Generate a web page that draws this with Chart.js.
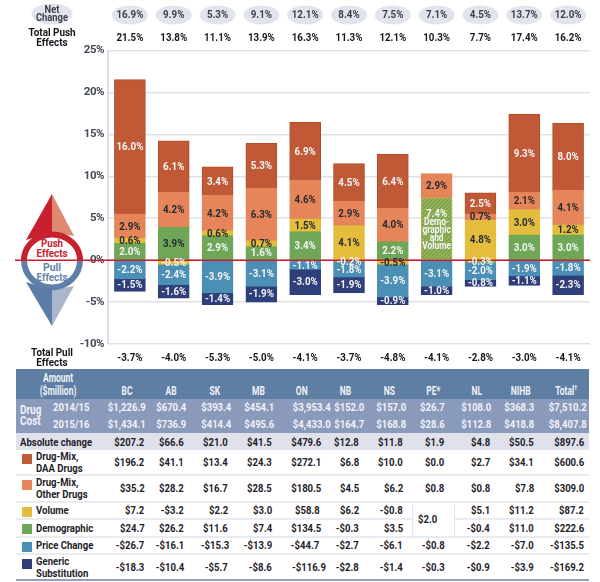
<!DOCTYPE html>
<html>
<head>
<meta charset="utf-8">
<title>Drug cost push and pull effects</title>
<script src="https://cdn.jsdelivr.net/npm/chart.js@4"></script>
<style>
    html, body { margin: 0; padding: 0; background: #fff; }
    #wrap { position: relative; width: 600px; height: 582px; overflow: hidden; font-family: Roboto, sans-serif; }
    #compass { position: absolute; left: 0; top: 0; }
    #myChart { position: absolute; left: 0; top: 0; }
    #costTable { position: absolute; left: 16px; top: 369px; width: 573px; table-layout: fixed; border-collapse: separate; border-spacing: 0; font-size: 11.5px; font-weight: bold; line-height: 12px; color: #1f2229; }
    #costTable td, #costTable th { padding: 0; text-align: right; overflow: visible; white-space: nowrap; font-weight: bold; }
    .cn { display: inline-block; transform: scaleX(0.83); transform-origin: right center; }
    .cl { display: inline-block; transform: scaleX(0.83); transform-origin: left center; }
    .cc { display: inline-block; transform: scaleX(0.68); transform-origin: center center; }
    #costTable tr.head th { background: #5f7ea4; color: #eef1f6; font-size: 12.5px; vertical-align: bottom; padding-bottom: 2px; }
    #costTable tr.head th.amount { text-align: center; line-height: 13.5px; padding-bottom: 1px; }
    #costTable sup { font-size: 8px; line-height: 0; }
    #costTable tr.cost td { background: #8a9aba; color: #f0f2f7; }
    #costTable td.drug { text-align: left; padding-left: 4px; line-height: 11px; font-size: 12px; }
    #costTable td.year { text-align: left; padding-left: 3px; }
    #costTable tr.abs td { background: #dfe2ea; }
    #costTable td.lab { text-align: left; padding-left: 4px; }
    #costTable td.effect { text-align: left; padding-left: 20px; position: relative; }
    #costTable tr.line td { border-bottom: 2px solid #e9ebf0; }
    #costTable tr.last td { border-bottom: 2px solid #8fa4c0; }
    #costTable td.merged { border-left: 1px solid #e4e6ec; border-right: 1px solid #e4e6ec; }
    .swatch { position: absolute; left: 6px; top: 4px; width: 10px; height: 10px; }
</style>
</head>
<body>
<div id="wrap">
    <svg id="compass" width="600" height="368" font-family="Roboto, sans-serif" font-weight="bold" font-size="11.5" text-anchor="middle">
        <polygon points="52,194 26,240 52,232" fill="#c8202f"/>
        <polygon points="52,194 74,236 52,232" fill="#dd8a70"/>
        <polygon points="52,326 26,282 52,290" fill="#5a7ca5"/>
        <polygon points="52,326 74,286 52,290" fill="#a9b6cc"/>
        <ellipse cx="52" cy="262" rx="27" ry="26" fill="#fff"/>
        <path d="M24,260 A28,25.5 0 0 1 80,260" fill="none" stroke="#c8202f" stroke-width="6"/>
        <path d="M24,260 A28,27.5 0 0 0 80,260" fill="none" stroke="#5f7fa8" stroke-width="6"/>
        <text x="52" y="246.7" fill="#c8202f" textLength="22" lengthAdjust="spacingAndGlyphs">Push</text>
        <text x="52" y="256.7" fill="#c8202f" textLength="31" lengthAdjust="spacingAndGlyphs">Effects</text>
        <text x="52" y="270.7" fill="#5f7fa8" textLength="18" lengthAdjust="spacingAndGlyphs">Pull</text>
        <text x="52" y="280.7" fill="#5f7fa8" textLength="31" lengthAdjust="spacingAndGlyphs">Effects</text>
    </svg>
    <canvas id="myChart" width="600" height="368"></canvas>
    <table id="costTable"></table>
</div>

<script>
// values
const provinces = ['BC', 'AB', 'SK', 'MB', 'ON', 'NB', 'NS', 'PE*', 'NL', 'NIHB', 'Total']
const netChange = [16.9, 9.9, 5.3, 9.1, 12.1, 8.4, 7.5, 7.1, 4.5, 13.7, 12.0]
const totalPush = [21.5, 13.8, 11.1, 13.9, 16.3, 11.3, 12.1, 10.3, 7.7, 17.4, 16.2]
const totalPull = [-3.7, -4.0, -5.3, -5.0, -4.1, -3.7, -4.8, -4.1, -2.8, -3.0, -4.1]

const demographic = [2.0, 3.9, 2.9, 1.6, 3.4, -0.2, 2.2, null, -0.3, 3.0, 3.0]
const volume = [0.6, -0.5, 0.6, 0.7, 1.5, 4.1, -0.5, null, 4.8, 3.0, 1.2]
const demoAndVolume = [null, null, null, null, null, null, null, 7.4, null, null, null]
const drugMixOther = [2.9, 4.2, 4.2, 6.3, 4.6, 2.9, 4.0, 2.9, 0.7, 2.1, 4.1]
const drugMixDaa = [16.0, 6.1, 3.4, 5.3, 6.9, 4.5, 6.4, null, 2.5, 9.3, 8.0]
const priceChange = [-2.2, -2.4, -3.9, -3.1, -1.1, -1.8, -3.9, -3.1, -2.0, -1.9, -1.8]
const genericSub = [-1.5, -1.6, -1.4, -1.9, -3.0, -1.9, -0.9, -1.0, -0.8, -1.1, -2.3]

const cost1415 = [1226.9, 670.4, 393.4, 454.1, 3953.4, 152.0, 157.0, 26.7, 108.0, 368.3, 7510.2]
const cost1516 = [1434.1, 736.9, 414.4, 495.6, 4433.0, 164.7, 168.8, 28.6, 112.8, 418.8, 8407.8]
const absChange = [207.2, 66.6, 21.0, 41.5, 479.6, 12.8, 11.8, 1.9, 4.8, 50.5, 897.6]
const amtDaa = [196.2, 41.1, 13.4, 24.3, 272.1, 6.8, 10.0, 0.0, 2.7, 34.1, 600.6]
const amtOther = [35.2, 28.2, 16.7, 28.5, 180.5, 4.5, 6.2, 0.8, 0.8, 7.8, 309.0]
const amtVolume = [7.2, -3.2, 2.2, 3.0, 58.8, 6.2, -0.8, 2.0, 5.1, 11.2, 87.2]
const amtDemographic = [24.7, 26.2, 11.6, 7.4, 134.5, -0.3, 3.5, null, -0.4, 11.0, 222.6]
const amtPrice = [-26.7, -16.1, -15.3, -13.9, -44.7, -2.7, -6.1, -0.8, -2.2, -7.0, -135.5]
const amtGeneric = [-18.3, -10.4, -5.7, -8.6, -116.9, -2.8, -1.4, -0.3, -0.9, -3.9, -169.2]

const yTicks = [25, 20, 15, 10, 5, 0, -5, -10]

const c_daa = '#c05a36'
const c_other = '#e58559'
const c_volume = '#e4bd3c'
const c_demo = '#6fa658'
const c_price = '#4b8fb5'
const c_generic = '#2e3f7a'

const FONT = 'Roboto, sans-serif'
const DARK = '#262a33'
const LIGHT = '#f4f5f7'

function pct(v) { return v.toFixed(1) + '%' }

function money(v) {
    const s = Math.abs(v).toLocaleString('en-US', { minimumFractionDigits: 1, maximumFractionDigits: 1 })
    return (v < 0 ? '-$' : '$') + s
}

// green on yellow stripes for the PE bar
function stripes() {
    const tile = document.createElement('canvas')
    tile.width = 4
    tile.height = 4
    const t = tile.getContext('2d')
    t.fillStyle = '#d2b84a'
    t.fillRect(0, 0, 4, 4)
    t.strokeStyle = c_demo
    t.lineWidth = 2
    t.beginPath()
    t.moveTo(-1, 5); t.lineTo(5, -1)
    t.moveTo(-1, 1); t.lineTo(1, -1)
    t.moveTo(3, 5); t.lineTo(5, 3)
    t.stroke()
    return document.getElementById('myChart').getContext('2d').createPattern(tile, 'repeat')
}

function barSet(label, data, fill, edge, labelColor) {
    return {
        label: label, data: data, backgroundColor: fill, borderColor: edge, borderWidth: 1,
        borderSkipped: false, inflateAmount: 0.5, stack: 'a', labelColor: labelColor
    }
}

const datasets = [
    barSet('Demographic', demographic, c_demo, c_demo, function (i) { return i == 1 ? DARK : LIGHT }),
    barSet('Volume', volume, c_volume, c_volume, function (i) { return (i == 1 || i == 5 || i == 8) && volume[i] < 0 ? LIGHT : DARK }),
    barSet('Demographic and Volume', demoAndVolume, stripes(), '#b8bb55', function () { return LIGHT }),
    barSet('Drug-Mix, Other Drugs', drugMixOther, c_other, c_other, function () { return DARK }),
    barSet('Drug-Mix, DAA Drugs', drugMixDaa, c_daa, '#b44a28', function () { return LIGHT }),
    barSet('Price Change', priceChange, c_price, c_price, function () { return LIGHT }),
    barSet('Generic Substitution', genericSub, c_generic, c_generic, function () { return LIGHT })
]

// the reference uses a narrow face, so squeeze Roboto a little
function narrowText(ctx, text, x, y, squeeze) {
    ctx.save()
    ctx.translate(x, y)
    ctx.scale(squeeze || 0.85, 1)
    ctx.fillText(text, 0, 0)
    ctx.restore()
}

// in-bar labels, the red zero line and the rows above and below the plot
const barText = {
    id: 'barText',
    beforeDraw(chart) {
        chart.ctx.letterSpacing = '-0.5px'
    },
    afterDatasetsDraw(chart) {
        const ctx = chart.ctx
        const xs = chart.scales.x
        const zero = chart.scales.y.getPixelForValue(0)

        ctx.save()
        ctx.letterSpacing = '0px'
        ctx.strokeStyle = '#d0182f'
        ctx.lineWidth = 1.5
        ctx.beginPath()
        ctx.moveTo(15, zero)
        ctx.lineTo(chart.chartArea.right, zero)
        ctx.stroke()

        ctx.textAlign = 'center'
        ctx.textBaseline = 'middle'
        const labelFont = 'bold 11.5px ' + FONT
        ctx.font = labelFont
        datasets.forEach(function (ds, d) {
            chart.getDatasetMeta(d).data.forEach(function (bar, i) {
                const v = ds.data[i]
                if (v === null) return
                ctx.fillStyle = ds.labelColor(i)
                if (ds.label == 'Demographic and Volume') {
                    const y = bar.y + 16
                    narrowText(ctx, pct(v), bar.x, y)
                    ctx.font = 'bold 10.5px ' + FONT
                    const words = ['Demo-', 'graphic', 'and', 'Volume']
                    words.forEach(function (w, k) { narrowText(ctx, w, bar.x, y + 8.5 + k * 8, 0.8) })
                    ctx.font = labelFont
                } else {
                    narrowText(ctx, pct(v), bar.x, (bar.y + bar.base) / 2 + 0.5)
                }
            })
        })

        // net change ovals and push / pull totals
        provinces.forEach(function (p, i) {
            const x = xs.getPixelForValue(i)
            ctx.fillStyle = '#e1e4ec'
            ctx.beginPath()
            ctx.ellipse(x, 15, 18, 9.5, 0, 0, Math.PI * 2)
            ctx.fill()
            ctx.fillStyle = '#3a3f4a'
            narrowText(ctx, pct(netChange[i]), x, 15.5)
            ctx.fillStyle = '#14161c'
            narrowText(ctx, pct(totalPush[i]), x, 38.5)
            narrowText(ctx, pct(totalPull[i]), x, 358.5)
        })

        ctx.fillStyle = '#e1e4ec'
        ctx.beginPath()
        ctx.ellipse(52, 14, 20.5, 10.5, 0, 0, Math.PI * 2)
        ctx.fill()
        ctx.font = 'bold 11px ' + FONT
        ctx.fillStyle = '#3a3f4a'
        narrowText(ctx, 'Net', 52, 10)
        narrowText(ctx, 'Change', 52, 18.5)
        ctx.fillStyle = '#14161c'
        narrowText(ctx, 'Total Push', 52, 33.5, 0.9)
        narrowText(ctx, 'Effects', 52, 43.5, 0.9)
        narrowText(ctx, 'Total Pull', 52, 353.5, 0.9)
        narrowText(ctx, 'Effects', 52, 363.5, 0.9)
        ctx.restore()
    }
}

const ctx = document.getElementById('myChart')
const myChart = new Chart(ctx, {
    type: 'bar',
    data: { labels: provinces, datasets: datasets },
    options: {
        responsive: false,
        animation: false,
        layout: { padding: { top: 50.5, right: 10, bottom: 24, left: 0 } },
        datasets: { bar: { barPercentage: 0.7, categoryPercentage: 1 } },
        plugins: { legend: { display: false }, tooltip: { enabled: false } },
        scales: {
            x: { stacked: true, display: false },
            y: {
                stacked: true,
                min: -10,
                max: 25,
                afterFit: function (s) { s.width = 108 },
                afterBuildTicks: function (s) { s.ticks = yTicks.map(function (v) { return { value: v } }) },
                border: { color: '#dcdee3', width: 2 },
                grid: { color: '#dfe1e6', lineWidth: 1.5, drawTicks: false },
                ticks: {
                    padding: 4,
                    color: '#444a55',
                    font: { family: FONT, size: 11.5, weight: 'bold' },
                    callback: function (v) { return v + '%' }
                }
            }
        }
    },
    plugins: [barText]
})

// table under the chart
const colEdges = [150, 195, 238, 285, 328, 370, 412, 455, 498, 541, 589]
const colRight = [144.3, 183.3, 227.7, 271.7, 319.3, 359, 402.7, 444.3, 490, 534, 584]
const headCenter = [126.7, 170.7, 215, 258, 302, 345.7, 389, 433, 477, 521, 565.7]
const rowHeights = [29.5, 17.25, 17.25, 17, 25, 26.5, 17.5, 17.5, 17, 25.5]

function cn(s) { return '<span class="cn">' + s + '</span>' }
function cl(s) { return '<span class="cl">' + s + '</span>' }
function cc(s) { return '<span class="cc">' + s + '</span>' }

function buildTable() {
    const pad = colEdges.map(function (e, i) { return e - colRight[i] })
    let html = '<colgroup><col style="width:34px"><col style="width:50px">'
    colEdges.forEach(function (e, i) {
        html += '<col style="width:' + (e - (i ? colEdges[i - 1] : 100)) + 'px">'
    })
    html += '</colgroup>'

    const cells = function (vals) {
        return vals.map(function (v, i) {
            return '<td style="padding-right:' + pad[i].toFixed(1) + 'px">' + cn(money(v)) + '</td>'
        }).join('')
    }

    html += '<tr class="head" style="height:' + rowHeights[0] + 'px"><th colspan="2" class="amount">' + cc('Amount') + '<br>' + cc('($million)') + '</th>'
    provinces.forEach(function (p, i) {
        const left = i ? colEdges[i - 1] : 100
        const shift = 2 * headCenter[i] - left - colEdges[i]
        const name = p == 'Total' ? 'Total<sup>†</sup>' : p
        html += '<th style="text-align:center;padding-left:' + Math.max(shift, 0).toFixed(1) + 'px;padding-right:' + Math.max(-shift, 0).toFixed(1) + 'px">' + cc(name) + '</th>'
    })
    html += '</tr>'

    html += '<tr class="cost" style="height:' + rowHeights[1] + 'px"><td class="drug" rowspan="2">' + cl('Drug<br>Cost') + '</td><td class="year">' + cl('2014/15') + '</td>' + cells(cost1415) + '</tr>'
    html += '<tr class="cost" style="height:' + rowHeights[2] + 'px"><td class="year">' + cl('2015/16') + '</td>' + cells(cost1516) + '</tr>'
    html += '<tr class="abs" style="height:' + rowHeights[3] + 'px"><td class="lab" colspan="2">' + cl('Absolute change') + '</td>' + cells(absChange) + '</tr>'

    const effectRow = function (name, color, h, cls) {
        return '<tr class="' + cls + '" style="height:' + h + 'px"><td class="effect" colspan="2"><span class="swatch" style="background:' + color + '"></span>' + cl(name) + '</td>'
    }

    html += effectRow('Drug-Mix,<br>DAA Drugs', c_daa, rowHeights[4], 'line') + cells(amtDaa) + '</tr>'
    html += effectRow('Drug-Mix,<br>Other Drugs', c_other, rowHeights[5], 'line') + cells(amtOther) + '</tr>'

    // PE reports volume and demographic together
    const peCol = provinces.indexOf('PE*')
    const withMerged = function (vals, merged) {
        return vals.map(function (v, i) {
            if (i == peCol) {
                if (!merged) return ''
                return '<td class="merged" rowspan="2" style="padding-right:17px">' + cn(money(v)) + '</td>'
            }
            return '<td style="padding-right:' + pad[i].toFixed(1) + 'px">' + cn(money(v)) + '</td>'
        }).join('')
    }
    html += effectRow('Volume', c_volume, rowHeights[6], 'line') + withMerged(amtVolume, true) + '</tr>'
    html += effectRow('Demographic', c_demo, rowHeights[7], 'line') + withMerged(amtDemographic, false) + '</tr>'
    html += effectRow('Price Change', c_price, rowHeights[8], 'line') + cells(amtPrice) + '</tr>'
    html += effectRow('Generic<br>Substitution', c_generic, rowHeights[9], 'last') + cells(amtGeneric) + '</tr>'

    document.getElementById('costTable').innerHTML = html
}

buildTable()
</script>
</body>
</html>
